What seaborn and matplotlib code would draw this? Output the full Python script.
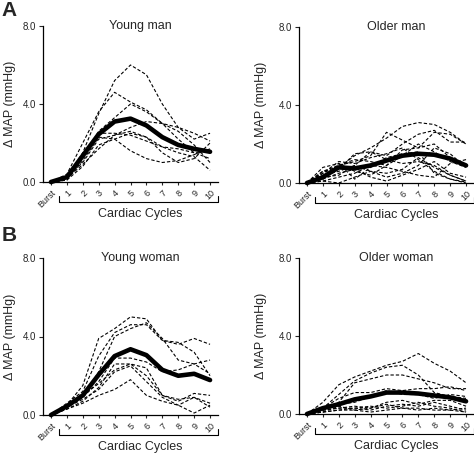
import numpy as np
import pandas as pd
import matplotlib
matplotlib.use("Agg")
import matplotlib.pyplot as plt
import matplotlib.transforms as mtransforms
import seaborn as sns

sns.set_style("white")
plt.rcParams["font.family"] = ["Liberation Sans", "DejaVu Sans"]

cycles = ["Burst", "1", "2", "3", "4", "5", "6", "7", "8", "9", "10"]

young_man_mean = [0, 0.25, 1.35, 2.45, 3.1, 3.25, 2.9, 2.3, 1.9, 1.7, 1.55]
young_man_subjects = [
    [0, 0.3, 1.5, 3.5, 5.2, 6.0, 5.5, 4.0, 2.8, 2.2, 2.5],
    [0, 0.4, 2.0, 3.6, 4.6, 4.1, 3.7, 3.0, 2.6, 1.9, 1.0],
    [0, 0.2, 1.2, 2.6, 3.3, 4.0, 3.6, 3.0, 2.8, 2.5, 2.1],
    [0, 0.3, 1.0, 2.2, 2.4, 2.6, 2.3, 1.5, 1.0, 1.2, 2.0],
    [0, 0.1, 1.1, 2.3, 2.2, 1.6, 1.2, 1.0, 1.1, 1.4, 1.7],
    [0, 0.2, 0.9, 1.7, 2.4, 2.8, 3.1, 3.0, 2.2, 1.5, 1.2],
    [0, 0.1, 0.8, 1.9, 2.2, 2.5, 2.3, 1.8, 1.5, 1.3, 0.6],
    [0, 0.3, 1.4, 2.5, 2.5, 2.4, 2.1, 1.8, 1.7, 1.5, 1.6],
]

older_man_mean = [0, 0.3, 0.8, 0.75, 0.9, 1.15, 1.4, 1.5, 1.45, 1.25, 0.9]
older_man_subjects = [
    [0, 0.3, 0.8, 1.4, 1.8, 2.3, 2.9, 3.1, 3.0, 2.6, 2.0],
    [0, 0.5, 0.9, 1.1, 1.4, 2.6, 2.2, 1.8, 2.6, 2.5, 2.0],
    [0, 0.6, 0.7, 1.5, 1.6, 1.4, 2.0, 2.5, 2.7, 2.1, 2.1],
    [0, 0.8, 1.0, 0.6, 0.4, 0.9, 1.7, 1.8, 2.0, 1.3, 0.9],
    [0, 0.2, 1.0, 0.2, 0.8, 1.3, 1.5, 1.6, 0.5, 0.2, 0.05],
    [0, 0.3, 0.4, 0.9, 1.6, 1.2, 1.0, 1.1, 0.9, 0.4, 0.1],
    [0, 0.1, 0.0, 0.3, 0.6, 0.5, 0.7, 1.3, 0.8, 0.4, 0.1],
    [0, 0.4, 0.6, 0.9, 0.6, 0.3, 0.5, 0.9, 1.8, 1.5, 0.8],
    [0, 0.5, 1.1, 1.0, 1.3, 1.5, 1.8, 1.2, 0.6, 0.2, 0.0],
    [0, 0.1, 0.3, 0.5, 0.9, 0.8, 0.6, 0.4, 0.3, 1.0, 1.2],
    [0, 0.2, 0.5, 0.7, 0.3, 0.1, 0.4, 0.7, 1.1, 0.5, 0.3],
    [0, 0.6, 0.9, 1.2, 1.1, 0.9, 1.4, 2.0, 1.6, 1.1, 0.8],
]

young_woman_mean = [0, 0.45, 1.0, 2.05, 3.0, 3.35, 3.05, 2.3, 2.0, 2.1, 1.78]
young_woman_subjects = [
    [0, 0.5, 1.5, 3.9, 4.4, 5.0, 4.9, 3.8, 3.6, 3.9, 3.6],
    [0, 0.6, 1.2, 3.0, 4.2, 4.6, 4.6, 3.8, 3.7, 3.2, 2.0],
    [0, 0.4, 0.9, 2.2, 4.0, 4.4, 4.7, 3.9, 2.8, 2.6, 2.1],
    [0, 0.5, 0.9, 1.7, 2.9, 2.9, 2.7, 2.2, 2.3, 2.6, 2.8],
    [0, 0.3, 0.7, 1.4, 2.6, 2.6, 2.4, 1.0, 0.7, 1.1, 1.0],
    [0, 0.4, 1.0, 1.6, 2.3, 2.6, 2.0, 1.0, 0.8, 0.9, 0.6],
    [0, 0.3, 0.6, 1.0, 1.3, 1.8, 1.0, 0.7, 0.5, 0.1, 0.5],
    [0, 0.4, 0.8, 1.3, 2.2, 2.5, 1.7, 0.9, 0.5, 0.9, 0.4],
]

older_woman_mean = [0, 0.3, 0.5, 0.75, 0.9, 1.1, 1.1, 1.05, 0.95, 0.85, 0.65]
older_woman_subjects = [
    [0, 0.6, 1.5, 1.9, 2.2, 2.5, 2.7, 3.1, 2.6, 2.2, 1.6],
    [0, 0.3, 1.0, 1.7, 2.1, 2.4, 2.5, 2.0, 1.1, 0.9, 0.8],
    [0, 0.2, 0.6, 1.6, 1.8, 2.0, 2.0, 1.8, 1.6, 1.3, 1.3],
    [0, 0.3, 0.8, 1.1, 1.1, 1.3, 1.2, 1.3, 1.3, 1.4, 1.2],
    [0, 0.2, 0.5, 0.6, 0.9, 1.2, 1.0, 1.0, 0.8, 1.0, 0.9],
    [0, 0.2, 0.3, 0.4, 0.3, 0.6, 0.7, 0.5, 0.7, 0.7, 0.4],
    [0, 0.1, 0.2, 0.3, 0.2, 0.4, 0.5, 0.4, 0.6, 0.4, 0.2],
    [0, 0.2, 0.3, 0.3, 0.4, 0.3, 0.4, 0.6, 0.4, 0.3, 0.1],
    [0, 0.1, 0.4, 0.2, 0.3, 0.5, 0.3, 0.3, 0.2, 0.2, 0.3],
    [0, 0.1, 0.2, 0.2, 0.1, 0.2, 0.3, 0.2, 0.3, 0.2, 0.1],
]

y_ticks = [0, 4, 8]
y_tick_labels = ["0.0", "4.0", "8.0"]

panels = [
    ("Young man", young_man_subjects, young_man_mean, [43 / 474, 1 - 182 / 455, 175 / 474, 156 / 455], -0.155, 5.6),
    ("Older man", older_man_subjects, older_man_mean, [299 / 474, 1 - 183 / 455, 175 / 474, 156 / 455], -0.185, 5.6),
    ("Young woman", young_woman_subjects, young_woman_mean, [43 / 474, 1 - 415 / 455, 175 / 474, 157 / 455], -0.155, 5.6),
    ("Older woman", older_woman_subjects, older_woman_mean, [299 / 474, 1 - 414 / 455, 175 / 474, 156 / 455], -0.185, 5.6),
]

fig = plt.figure(figsize=(4.74, 4.55), dpi=100)
x = np.arange(len(cycles))

for title, subjects, mean, pos, ylab_x, title_x in panels:
    ax = fig.add_axes(pos)
    df = pd.DataFrame(
        [(s, xi, v) for s, row in enumerate(subjects) for xi, v in zip(x, row)],
        columns=["subject", "cycle", "dmap"],
    )
    sns.lineplot(data=df, x="cycle", y="dmap", units="subject", estimator=None,
                 color="black", lw=0.8, ls=(0, (3, 1.8)), ax=ax, legend=False)
    mdf = pd.DataFrame({"cycle": x, "dmap": mean})
    sns.lineplot(data=mdf, x="cycle", y="dmap", color="black", lw=3.3, ax=ax,
                 legend=False, solid_capstyle="round")
    for ln in ax.lines:
        ln.set_clip_on(False)

    ax.set_xlim(-0.5, 10.5)
    ax.set_ylim(0, 8)
    sns.despine(ax=ax)
    for sp in ("left", "bottom"):
        ax.spines[sp].set_linewidth(0.9)
        ax.spines[sp].set_color("black")
    ax.set_yticks(y_ticks)
    ax.set_yticklabels(y_tick_labels, fontsize=7)
    ax.set_xticks(x)
    ax.set_xticklabels(cycles, fontsize=6.5, rotation=45, ha="right",
                       rotation_mode="anchor")
    ax.tick_params(axis="x", direction="out", length=2.5, width=0.8, pad=2, bottom=True)
    ax.tick_params(axis="y", direction="out", length=3, width=0.8, pad=2, left=True)
    ax.set_xlabel("")
    ax.set_ylabel("Δ MAP (mmHg)", fontsize=9)
    ax.yaxis.set_label_coords(ylab_x, 0.5)
    ax.text(title_x, 8.0, title, ha="center", va="center", fontsize=9)

    trans = mtransforms.blended_transform_factory(ax.transData, ax.transAxes)
    ax.plot([0.5, 0.5, 10.5, 10.5], [-0.09, -0.125, -0.125, -0.09],
            color="black", lw=0.8, transform=trans, clip_on=False)
    ax.text(5.6, -0.205, "Cardiac Cycles", ha="center", va="center",
            fontsize=9, transform=trans)

fig.text(0.004, 0.998, "A", fontsize=15, fontweight="bold", va="top", ha="left")
fig.text(0.004, 1 - 226 / 455, "B", fontsize=15, fontweight="bold", va="top", ha="left")

fig.savefig("out.png", dpi=100)
